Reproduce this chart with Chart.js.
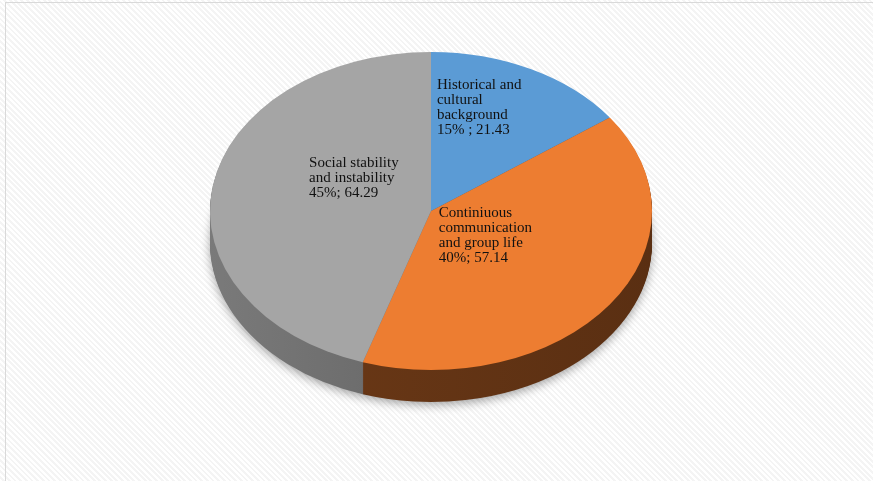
<!DOCTYPE html>
<html>
<head>
<meta charset="utf-8">
<script src="https://cdn.jsdelivr.net/npm/chart.js@4/dist/chart.umd.min.js"></script>
<style>
html, body { margin: 0; padding: 0; }
#wrap {
    position: relative; width: 873px; height: 481px; overflow: hidden;
    background: repeating-linear-gradient(45deg, #ffffff 0px, #ffffff 2px, #f4f4f4 2px, #f4f4f4 4px);
}
#frame { position: absolute; left: 5px; top: 2px; width: 880px; height: 490px; border: 1px solid #d9d9d9; }
canvas { position: absolute; left: 0; top: 0; }
</style>
</head>
<body>
<div id="wrap"><div id="frame"></div><canvas id="canvas" width="873" height="481"></canvas></div>
<script>
// data
var categories = [
    ['Historical and', 'cultural', 'background'],
    ['Continiuous', 'communication', 'and group life'],
    ['Social stability', 'and instability']
];
var values = [21.43, 57.14, 64.29];
var separators = [' ; ', '; ', '; '];

var topColors = ['#5b9bd5', '#ed7d31', '#a5a5a5'];
var sideColors = [['#2f5f8a', '#2f5f8a'], ['#6e3a17', '#5a2f12'], ['#7a7a7a', '#555555']];

// 3d look: the circle is squashed into an ellipse and stacked
var TILT = 159 / 221;
var TOP_Y = 211;
var DEPTH = 32;
var LINE_H = 15;
var labelShift = [[-2, -33], [-35, -22], [32, -21]];

function arcPath(ctx, a) {
    ctx.beginPath();
    ctx.moveTo(a.x, a.y);
    ctx.arc(a.x, a.y, a.outerRadius, a.startAngle, a.endAngle);
    ctx.closePath();
}

var pie3d = {
    id: 'pie3d',
    beforeDatasetsDraw: function (chart) {
        var ctx = chart.ctx;
        var arcs = chart.getDatasetMeta(0).data;
        var cy = arcs[0].y;
        ctx.save();
        for (var d = DEPTH; d >= 1; d--) {
            ctx.save();
            if (d == DEPTH) {
                ctx.shadowColor = 'rgba(0,0,0,0.35)';
                ctx.shadowBlur = 10;
                ctx.shadowOffsetY = 3;
            }
            ctx.translate(0, TOP_Y + d);
            ctx.scale(1, TILT);
            ctx.translate(0, -cy);
            for (var i = 0; i < arcs.length; i++) {
                var a = arcs[i];
                var g = ctx.createLinearGradient(a.x - a.outerRadius, 0, a.x + a.outerRadius, 0);
                g.addColorStop(0, sideColors[i][0]);
                g.addColorStop(1, sideColors[i][1]);
                ctx.fillStyle = g;
                arcPath(ctx, a);
                ctx.fill();
            }
            ctx.restore();
        }
        // top face is drawn by Chart.js itself under this transform
        ctx.save();
        ctx.translate(0, TOP_Y);
        ctx.scale(1, TILT);
        ctx.translate(0, -cy);
    },
    afterDatasetsDraw: function (chart) {
        var ctx = chart.ctx;
        ctx.restore();
        ctx.restore();
        var arcs = chart.getDatasetMeta(0).data;
        var cy = arcs[0].y;
        var total = values.reduce(function (s, v) { return s + v; }, 0);
        ctx.save();
        ctx.font = '15px "Liberation Serif", "Times New Roman", serif';
        ctx.fillStyle = '#111111';
        ctx.textAlign = 'left';
        ctx.textBaseline = 'middle';
        for (var i = 0; i < arcs.length; i++) {
            var p = arcs[i].tooltipPosition();
            var lines = categories[i].concat([Math.round(values[i] / total * 100) + '%' + separators[i] + values[i].toFixed(2)]);
            var w = 0;
            lines.forEach(function (l) { w = Math.max(w, ctx.measureText(l).width); });
            var x = p.x + labelShift[i][0] - w / 2;
            var y = TOP_Y + (p.y - cy) * TILT + labelShift[i][1] - (lines.length - 1) * LINE_H / 2;
            for (var j = 0; j < lines.length; j++) ctx.fillText(lines[j], x, y + j * LINE_H);
        }
        ctx.restore();
    }
};

new Chart('canvas', {
    type: 'pie',
    data: {
        labels: categories,
        datasets: [{
            data: values,
            backgroundColor: topColors,
            borderWidth: 0,
            clip: false
        }]
    },
    options: {
        responsive: false,
        animation: false,
        devicePixelRatio: 1,
        layout: { padding: { left: 210, right: 221, top: 19, bottom: 20 } },
        plugins: {
            legend: { display: false },
            tooltip: { enabled: false }
        }
    },
    plugins: [pie3d]
});
</script>
</body>
</html>
